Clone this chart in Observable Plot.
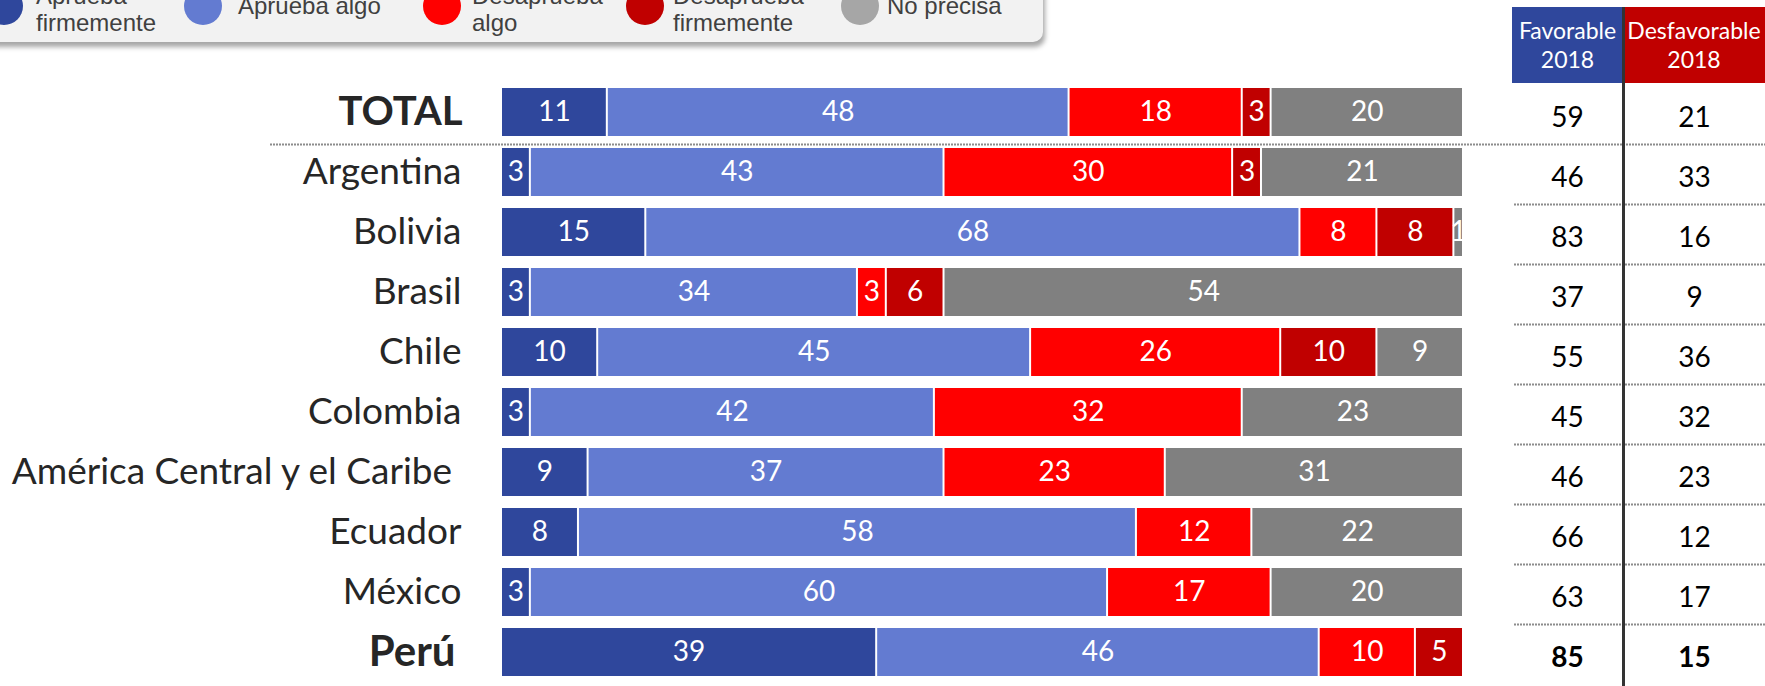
<!DOCTYPE html>
<html>
<head>
<meta charset="utf-8">
<script src="https://cdn.jsdelivr.net/npm/d3@7"></script>
<script src="https://cdn.jsdelivr.net/npm/@observablehq/plot@0.6"></script>
<style>
  body { margin: 0; background: #fff; }
  #wrap { position: relative; width: 1765px; height: 686px; overflow: hidden; background: #fff; }
  #wrap > * { position: absolute; }
  .legend-box { left: -30px; top: -30px; width: 1073px; height: 72px; background: #f2f2f2;
    border-radius: 0 0 10px 0; box-shadow: 2px 5px 5px rgba(0,0,0,0.35); }
  .lg-dot { width: 38px; height: 38px; border-radius: 50%; top: -13px; }
  .lg-txt { font-family: "Liberation Sans", Arial, sans-serif; font-size: 24px; line-height: 27px; color: #404040; white-space: nowrap; }
  .hdr { top: 7px; height: 76px; color: #fff; font-family: Lato, sans-serif; font-size: 23px; line-height: 29px;
    display: flex; align-items: center; justify-content: center; text-align: center; }
  .divider { left: 1622px; top: 7px; width: 3px; height: 679px; background: #333; }
</style>
</head>
<body>
<div id="wrap"></div>
<script>
// ---- data ----
const countries = ["TOTAL", "Argentina", "Bolivia", "Brasil", "Chile", "Colombia",
  "América Central y el Caribe", "Ecuador", "México", "Perú"];
const categories = ["Aprueba firmemente", "Aprueba algo", "Desaprueba algo", "Desaprueba firmemente", "No precisa"];
const legendLabels = ["Aprueba\nfirmemente", "Aprueba algo", "Desaprueba\nalgo", "Desaprueba\nfirmemente", "No precisa"];
const apruebaFirmemente    = [11, 3, 15, 3, 10, 3, 9, 8, 3, 39];
const apruebaAlgo          = [48, 43, 68, 34, 45, 42, 37, 58, 60, 46];
const desapruebaAlgo       = [18, 30, 8, 3, 26, 32, 23, 12, 17, 10];
const desapruebaFirmemente = [3, 3, 8, 6, 10, 0, 0, 0, 0, 5];
const noPrecisa            = [20, 21, 1, 54, 9, 23, 31, 22, 20, 0];
const tableColumns = ["Favorable\n2018", "Desfavorable\n2018"];
const favorable2018    = [59, 46, 83, 37, 55, 45, 46, 66, 63, 85];
const desfavorable2018 = [21, 33, 16, 9, 36, 32, 23, 12, 17, 15];
const boldRows = ["TOTAL", "Perú"];

// ---- style ----
const barColors = ["#2F479C", "#637BD1", "#FF0000", "#C00000", "#808080"];
const legendColors = ["#2F479C", "#637BD1", "#FF0000", "#C00000", "#A6A6A6"];
const headerColors = ["#2F479C", "#C00000"];

const series = [apruebaFirmemente, apruebaAlgo, desapruebaAlgo, desapruebaFirmemente, noPrecisa];
const rows = [];
countries.forEach((c, i) => series.forEach((s, j) => {
  if (s[i] > 0) rows.push({country: c, cat: categories[j], value: s[i]});
}));

const wrap = document.getElementById("wrap");
const yScale = {domain: countries, paddingInner: 0.2, paddingOuter: 0.1, axis: null};
const labelText = d => d === "América Central y el Caribe" ? d + "\u00a0" : d;

const main = Plot.plot({
  width: 1765, height: 686,
  marginLeft: 501, marginRight: 302, marginTop: 81, marginBottom: 4,
  x: {domain: [0, 100], axis: null},
  y: yScale,
  color: {domain: categories, range: barColors},
  style: {background: "transparent", fontFamily: "Lato, sans-serif"},
  marks: [
    Plot.barX(rows, Plot.stackX({x: "value", y: "country", z: "cat", order: categories,
      fill: "cat", insetLeft: 1, insetRight: 1})),
    Plot.text(rows, Plot.stackX({x: "value", y: "country", z: "cat", order: categories,
      text: d => String(d.value), fill: "white", fontSize: 28})),
    Plot.text(countries.filter(c => !boldRows.includes(c)), {y: d => d, text: labelText,
      frameAnchor: "left", textAnchor: "end", dx: -40, fontSize: 37, fill: "#262626"}),
    Plot.text(["TOTAL"], {y: d => d, text: d => d, frameAnchor: "left", textAnchor: "end",
      dx: -39, fontSize: 40, fontWeight: "bold", fill: "#262626"}),
    Plot.text(["Perú"], {y: d => d, text: d => d, frameAnchor: "left", textAnchor: "end",
      dx: -46, fontSize: 42, fontWeight: "bold", fill: "#262626"}),
    Plot.ruleY(["Argentina"], {y: d => d, dy: -28, insetLeft: -231, insetRight: -302,
      stroke: "#8c8c8c", strokeWidth: 2, strokeDasharray: "2,1"})
  ]
});
main.style.left = "0px"; main.style.top = "0px";

const tableRows = [];
countries.forEach((c, i) => {
  tableRows.push({country: c, col: tableColumns[0], v: favorable2018[i]});
  tableRows.push({country: c, col: tableColumns[1], v: desfavorable2018[i]});
});

const table = Plot.plot({
  width: 253, height: 686,
  marginLeft: 2, marginRight: 0, marginTop: 81, marginBottom: 4,
  x: {type: "point", domain: tableColumns, range: [55, 182], padding: 0, axis: null},
  y: yScale,
  style: {background: "transparent", fontFamily: "Lato, sans-serif"},
  marks: [
    Plot.ruleY(countries.slice(2), {y: d => d, dy: -28, stroke: "#8c8c8c", strokeWidth: 2, strokeDasharray: "2,1"}),
    Plot.text(tableRows.filter(d => d.country !== "Perú"), {x: "col", y: "country", text: d => String(d.v),
      dy: 6, fontSize: 28, fill: "#000"}),
    Plot.text(tableRows.filter(d => d.country === "Perú"), {x: "col", y: "country", text: d => String(d.v),
      dy: 6, fontSize: 28, fontWeight: "bold", fill: "#000"})
  ]
});
table.style.left = "1512px"; table.style.top = "0px";

// legend (above the chart)
const box = document.createElement("div"); box.className = "legend-box"; wrap.appendChild(box);
const dotX = [4, 203, 442, 645, 860];
const txtX = [36, 238, 472, 673, 887];
legendLabels.forEach((lab, i) => {
  const dot = document.createElement("div");
  dot.className = "lg-dot"; dot.style.left = (dotX[i] - 19) + "px"; dot.style.background = legendColors[i];
  wrap.appendChild(dot);
  const t = document.createElement("div");
  t.className = "lg-txt"; t.style.left = txtX[i] + "px";
  const lines = lab.split("\n");
  t.style.top = (lines.length > 1 ? -18 : -8) + "px";
  t.innerHTML = lines.join("<br>");
  wrap.appendChild(t);
});

wrap.appendChild(main);
wrap.appendChild(table);

// table headers
const hdrLeft = [1512, 1623], hdrWidth = [111, 142];
tableColumns.forEach((c, i) => {
  const h = document.createElement("div");
  h.className = "hdr"; h.style.left = hdrLeft[i] + "px"; h.style.width = hdrWidth[i] + "px";
  h.style.background = headerColors[i];
  h.innerHTML = c.split("\n").join("<br>");
  wrap.appendChild(h);
});
const div = document.createElement("div"); div.className = "divider"; wrap.appendChild(div);
</script>
</body>
</html>
